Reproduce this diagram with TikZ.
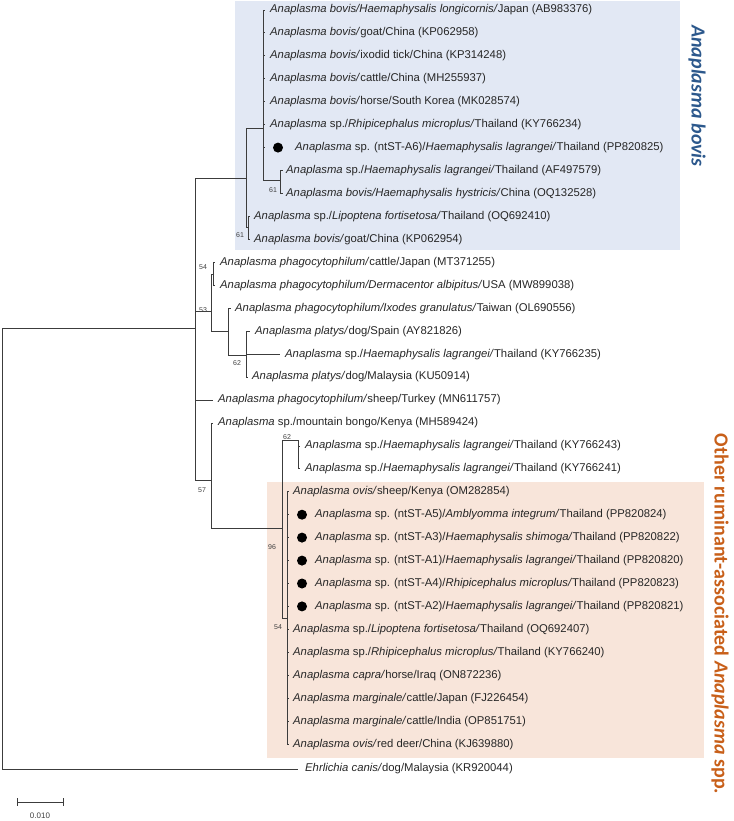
\documentclass[tikz,border=0pt]{standalone}
\usepackage{fontspec}
\setmainfont{Liberation Sans}
\newfontfamily\calfont{Carlito}

\definecolor{bovisbg}{RGB}{226,232,244}
\definecolor{ovisbg}{RGB}{248,229,218}
\definecolor{bovisblue}{RGB}{44,88,140}
\definecolor{ovisorange}{RGB}{200,95,25}
\definecolor{treegray}{RGB}{60,60,60}

\tikzset{
  twig/.style={draw=treegray, line width=0.8pt},
  leaflabel/.style={anchor=west, inner sep=0pt, text=black!85,
    font=\fontsize{11.3}{13}\selectfont},
  boot/.style={inner sep=0pt, text=black!75, font=\fontsize{7}{8}\selectfont},
  dotmark/.style={circle, fill=black, inner sep=0pt, minimum size=10pt},
  cladename/.style={rotate=-90, inner sep=0pt,
    font=\calfont\bfseries\fontsize{20}{24}\selectfont},
}

\begin{document}
\begin{tikzpicture}[x=1pt, y=-1pt]
    \useasboundingbox (0,0) rectangle (733,821);

    % clade shading
    \fill[bovisbg] (235,1) rectangle (680,250);
    \fill[ovisbg] (267,482) rectangle (704,758);

    % internal nodes
    \coordinate (root) at (2,328);
    \coordinate (nA) at (195,328);
    \coordinate (nBov) at (246,178);
    \coordinate (nPoly) at (263,128);
    \coordinate (n61a) at (280,180);
    \coordinate (n61b) at (248,227);
    \coordinate (n53) at (211,311);
    \coordinate (n54a) at (213,274);
    \coordinate (nC) at (228,331);
    \coordinate (n62a) at (246,355);
    \coordinate (n57) at (211,480);
    \coordinate (n96) at (282,528);
    \coordinate (n62b) at (298,440);
    \coordinate (n54b) at (287,618);

    % Anaplasma bovis clade
    \coordinate (t1) at (265,10);
    \node[leaflabel] (l1) at (270,10) {\textit{Anaplasma bovis/Haemaphysalis longicornis/}Japan (AB983376)};
    \coordinate (t2) at (265,32.9);
    \node[leaflabel] (l2) at (270,32.9) {\textit{Anaplasma bovis/}goat/China (KP062958)};
    \coordinate (t3) at (265,55.9);
    \node[leaflabel] (l3) at (270,55.9) {\textit{Anaplasma bovis/}ixodid tick/China (KP314248)};
    \coordinate (t4) at (265,78.8);
    \node[leaflabel] (l4) at (270,78.8) {\textit{Anaplasma bovis/}cattle/China (MH255937)};
    \coordinate (t5) at (265,101.8);
    \node[leaflabel] (l5) at (270,101.8) {\textit{Anaplasma bovis/}horse/South Korea (MK028574)};
    \coordinate (t6) at (265,124.7);
    \node[leaflabel] (l6) at (270,124.7) {\textit{Anaplasma} sp./\textit{Rhipicephalus microplus/}Thailand (KY766234)};
    \coordinate (t7) at (265,147.6);
    \node[dotmark] (d7) at (278,147.6) {};
    \node[leaflabel] (l7) at (295,147.6) {\textit{Anaplasma} sp. (ntST-A6)/\textit{Haemaphysalis lagrangei/}Thailand (PP820825)};
    \coordinate (t8) at (283,170.6);
    \node[leaflabel] (l8) at (286,170.6) {\textit{Anaplasma} sp./\textit{Haemaphysalis lagrangei/}Thailand (AF497579)};
    \coordinate (t9) at (283,193.5);
    \node[leaflabel] (l9) at (286,193.5) {\textit{Anaplasma bovis/Haemaphysalis hystricis/}China (OQ132528)};
    \coordinate (t10) at (250,216.5);
    \node[leaflabel] (l10) at (254,216.5) {\textit{Anaplasma} sp./\textit{Lipoptena fortisetosa/}Thailand (OQ692410)};
    \coordinate (t11) at (250,239.4);
    \node[leaflabel] (l11) at (254,239.4) {\textit{Anaplasma bovis/}goat/China (KP062954)};

    % phagocytophilum / platys
    \coordinate (t12) at (215,262.3);
    \node[leaflabel] (l12) at (220,262.3) {\textit{Anaplasma phagocytophilum/}cattle/Japan (MT371255)};
    \coordinate (t13) at (215,285.3);
    \node[leaflabel] (l13) at (220,285.3) {\textit{Anaplasma phagocytophilum/Dermacentor albipitus/}USA (MW899038)};
    \coordinate (t14) at (231,308.2);
    \node[leaflabel] (l14) at (235,308.2) {\textit{Anaplasma phagocytophilum/Ixodes granulatus/}Taiwan (OL690556)};
    \coordinate (t15) at (250,331.2);
    \node[leaflabel] (l15) at (255,331.2) {\textit{Anaplasma platys/}dog/Spain (AY821826)};
    \coordinate (t16) at (280,354.1);
    \node[leaflabel] (l16) at (285,354.1) {\textit{Anaplasma} sp./\textit{Haemaphysalis lagrangei/}Thailand (KY766235)};
    \coordinate (t17) at (248,377);
    \node[leaflabel] (l17) at (252,377) {\textit{Anaplasma platys/}dog/Malaysia (KU50914)};
    \coordinate (t18) at (213,400);
    \node[leaflabel] (l18) at (218,400) {\textit{Anaplasma phagocytophilum/}sheep/Turkey (MN611757)};
    \coordinate (t19) at (213,422.9);
    \node[leaflabel] (l19) at (218,422.9) {\textit{Anaplasma} sp./mountain bongo/Kenya (MH589424)};
    \coordinate (t20) at (300,445.9);
    \node[leaflabel] (l20) at (305,445.9) {\textit{Anaplasma} sp./\textit{Haemaphysalis lagrangei/}Thailand (KY766243)};
    \coordinate (t21) at (300,468.8);
    \node[leaflabel] (l21) at (305,468.8) {\textit{Anaplasma} sp./\textit{Haemaphysalis lagrangei/}Thailand (KY766241)};

    % other ruminant-associated clade
    \coordinate (t22) at (289,491.7);
    \node[leaflabel] (l22) at (293,491.7) {\textit{Anaplasma ovis/}sheep/Kenya (OM282854)};
    \coordinate (t23) at (289,514.7);
    \node[dotmark] (d23) at (302,514.7) {};
    \node[leaflabel] (l23) at (315,514.7) {\textit{Anaplasma} sp. (ntST-A5)/\textit{Amblyomma integrum/}Thailand (PP820824)};
    \coordinate (t24) at (289,537.6);
    \node[dotmark] (d24) at (302,537.6) {};
    \node[leaflabel] (l24) at (315,537.6) {\textit{Anaplasma} sp. (ntST-A3)/\textit{Haemaphysalis shimoga/}Thailand (PP820822)};
    \coordinate (t25) at (289,560.6);
    \node[dotmark] (d25) at (302,560.6) {};
    \node[leaflabel] (l25) at (315,560.6) {\textit{Anaplasma} sp. (ntST-A1)/\textit{Haemaphysalis lagrangei/}Thailand (PP820820)};
    \coordinate (t26) at (289,583.5);
    \node[dotmark] (d26) at (302,583.5) {};
    \node[leaflabel] (l26) at (315,583.5) {\textit{Anaplasma} sp. (ntST-A4)/\textit{Rhipicephalus microplus/}Thailand (PP820823)};
    \coordinate (t27) at (289,606.4);
    \node[dotmark] (d27) at (302,606.4) {};
    \node[leaflabel] (l27) at (315,606.4) {\textit{Anaplasma} sp. (ntST-A2)/\textit{Haemaphysalis lagrangei/}Thailand (PP820821)};
    \coordinate (t28) at (289,629.4);
    \node[leaflabel] (l28) at (293,629.4) {\textit{Anaplasma} sp./\textit{Lipoptena fortisetosa/}Thailand (OQ692407)};
    \coordinate (t29) at (289,652.3);
    \node[leaflabel] (l29) at (293,652.3) {\textit{Anaplasma} sp./\textit{Rhipicephalus microplus/}Thailand (KY766240)};
    \coordinate (t30) at (289,675.3);
    \node[leaflabel] (l30) at (293,675.3) {\textit{Anaplasma capra/}horse/Iraq (ON872236)};
    \coordinate (t31) at (289,698.2);
    \node[leaflabel] (l31) at (293,698.2) {\textit{Anaplasma marginale/}cattle/Japan (FJ226454)};
    \coordinate (t32) at (289,721.1);
    \node[leaflabel] (l32) at (293,721.1) {\textit{Anaplasma marginale/}cattle/India (OP851751)};
    \coordinate (t33) at (289,744.1);
    \node[leaflabel] (l33) at (293,744.1) {\textit{Anaplasma ovis/}red deer/China (KJ639880)};

    % outgroup
    \coordinate (t34) at (298,769);
    \node[leaflabel] (l34) at (305,769) {\textit{Ehrlichia canis/}dog/Malaysia (KR920044)};

    % branches
    \draw[twig] (root) |- (nA) (root) |- (t34);
    \draw[twig] (nA) |- (nBov) (nA) |- (n53) (nA) |- (t18) (nA) |- (n57);
    \draw[twig] (nBov) |- (nPoly) (nBov) |- (n61b);
    \draw[twig] (nPoly) |- (t1) (nPoly) |- (t2) (nPoly) |- (t3) (nPoly) |- (t4)
                (nPoly) |- (t5) (nPoly) |- (t6) (nPoly) |- (t7) (nPoly) |- (n61a);
    \draw[twig] (n61a) |- (t8) (n61a) |- (t9);
    \draw[twig] (n61b) |- (t10) (n61b) |- (t11);
    \draw[twig] (n53) |- (n54a) (n53) |- (nC);
    \draw[twig] (n54a) |- (t12) (n54a) |- (t13);
    \draw[twig] (nC) |- (t14) (nC) |- (n62a);
    \draw[twig] (n62a) |- (t15) (n62a) |- (t16) (n62a) |- (t17);
    \draw[twig] (n57) |- (t19) (n57) |- (n96);
    \draw[twig] (n96) |- (n62b) (n96) |- (n54b);
    \draw[twig] (n62b) |- (t20) (n62b) |- (t21);
    \draw[twig] (n54b) |- (t22) (n54b) |- (t23) (n54b) |- (t24) (n54b) |- (t25)
                (n54b) |- (t26) (n54b) |- (t27) (n54b) |- (t28) (n54b) |- (t29)
                (n54b) |- (t30) (n54b) |- (t31) (n54b) |- (t32) (n54b) |- (t33);

    % bootstrap values
    \node[boot] (b1) at (273,190) {61};
    \node[boot] (b2) at (240,235) {61};
    \node[boot] (b3) at (203,267) {54};
    \node[boot] (b4) at (203,310) {53};
    \node[boot] (b5) at (237,363) {62};
    \node[boot] (b6) at (202,490) {57};
    \node[boot] (b7) at (287,437) {62};
    \node[boot] (b8) at (272,547) {96};
    \node[boot] (b9) at (278,627) {54};

    % scale bar
    \coordinate (sb0) at (17,802);
    \coordinate (sb1) at (64,802);
    \draw[twig, |-|] (sb0) -- (sb1);
    \node[inner sep=0pt, text=black!75, font=\fontsize{8}{9}\selectfont] (sblab) at (40,816) {0.010};

    % clade names
    \node[cladename, text=bovisblue] (cbovis) at (697,96) {\itshape Anaplasma bovis};
    \node[cladename, text=ovisorange] (covis) at (720,614) {Other ruminant-associated \textit{Anaplasma} spp.};
\end{tikzpicture}
\end{document}
